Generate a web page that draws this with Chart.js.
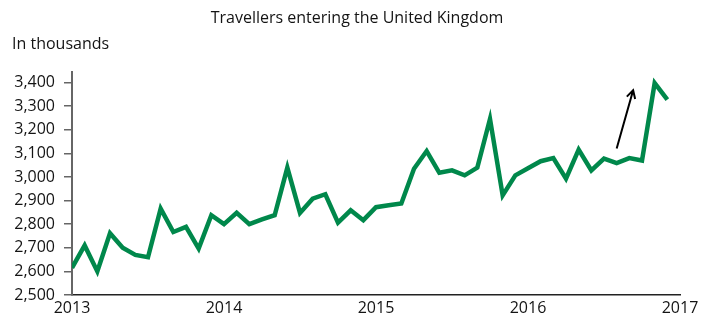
<!DOCTYPE html>
<html>
<head>
<meta charset="utf-8">
<script src="https://cdn.jsdelivr.net/npm/chart.js@4/dist/chart.umd.min.js"></script>
<style>
  html, body { margin: 0; padding: 0; background: #fff; }
  #chart { display: block; }
</style>
</head>
<body>
<canvas id="chart" width="712" height="318"></canvas>
<script>
// monthly travellers, Jan 2013 .. Dec 2016, in thousands
const travellers = [
  2615, 2710, 2600, 2762, 2700, 2670, 2660, 2866, 2767, 2789, 2697, 2838,
  2800, 2848, 2800, 2820, 2838, 3040, 2848, 2908, 2927, 2807, 2859, 2817,
  2872, 2880, 2888, 3035, 3110, 3018, 3028, 3007, 3040, 3246, 2922, 3007,
  3037, 3067, 3080, 2993, 3116, 3028, 3078, 3059, 3080, 3070, 3398, 3328
];
const yearLabels = ['2013', '2014', '2015', '2016', '2017'];
const yTicks = [2500, 2600, 2700, 2800, 2900, 3000, 3100, 3200, 3300, 3400];
// arrow annotation, [month index, value]
const arrowFrom = [43.0, 3121];
const arrowTo = [44.3, 3368];

const titleText = 'Travellers entering the United Kingdom';
const unitText = 'In thousands';

const FONT = "'Open Sans', 'Noto Sans', sans-serif";
const TEXT = '#141414';

// title centred on the page, unit label at the top left
const headerPlugin = {
  id: 'header',
  afterDraw(chart) {
    const { ctx, width } = chart;
    ctx.save();
    ctx.fillStyle = TEXT;
    ctx.font = `16px ${FONT}`;
    ctx.textBaseline = 'middle';
    ctx.textAlign = 'center';
    ctx.fillText(titleText, width / 2 + 1, 18.6);
    ctx.textAlign = 'left';
    ctx.fillText(unitText, 12, 44.8);
    ctx.restore();
  }
};

const arrowPlugin = {
  id: 'arrow',
  afterDatasetsDraw(chart) {
    const { ctx, scales: { x, y } } = chart;
    const x1 = x.getPixelForValue(arrowFrom[0]);
    const y1 = y.getPixelForValue(arrowFrom[1]);
    const x2 = x.getPixelForValue(arrowTo[0]);
    const y2 = y.getPixelForValue(arrowTo[1]);
    const ang = Math.atan2(y2 - y1, x2 - x1);
    const head = 9;
    ctx.save();
    ctx.strokeStyle = '#000';
    ctx.lineWidth = 2;
    ctx.lineCap = 'butt';
    ctx.beginPath();
    ctx.moveTo(x1, y1);
    ctx.lineTo(x2, y2);
    ctx.moveTo(x2 - head * Math.cos(ang - 0.5), y2 - head * Math.sin(ang - 0.5));
    ctx.lineTo(x2, y2);
    ctx.lineTo(x2 - head * Math.cos(ang + 0.5), y2 - head * Math.sin(ang + 0.5));
    ctx.stroke();
    ctx.restore();
  }
};

new Chart(document.getElementById('chart'), {
  type: 'line',
  data: {
    datasets: [{
      data: travellers.map((v, i) => ({ x: i, y: v })),
      borderColor: '#00884b',
      borderWidth: 4.5,
      pointRadius: 0,
      tension: 0,
      fill: false
    }]
  },
  options: {
    responsive: false,
    animation: false,
    devicePixelRatio: 1,
    layout: { padding: { left: 12, right: 32, top: 72, bottom: 0 } },
    plugins: {
      legend: { display: false },
      tooltip: { enabled: false },
      title: { display: false }
    },
    scales: {
      x: {
        type: 'linear',
        min: 0,
        max: 48,
        afterFit: (scale) => { scale.height = 23; },
        ticks: {
          stepSize: 12,
          color: TEXT,
          font: { family: FONT, size: 16 },
          padding: 4,
          maxRotation: 0,
          callback: (v) => yearLabels[v / 12]
        },
        grid: { display: true, drawOnChartArea: false, drawTicks: false },
        border: { display: true, color: '#222', width: 1.5 }
      },
      y: {
        min: 2500,
        max: 3445,
        afterFit: (scale) => { scale.width = 60; },
        afterBuildTicks: (scale) => {
          scale.ticks = yTicks.map(v => ({ value: v }));
        },
        ticks: {
          color: TEXT,
          font: { family: FONT, size: 16 },
          padding: 9,
          callback: (v) => v.toLocaleString('en-US')
        },
        grid: {
          display: true,
          drawOnChartArea: false,
          drawTicks: true,
          tickLength: 8,
          color: '#666',
          lineWidth: 1.5
        },
        border: { display: true, color: '#666', width: 2 }
      }
    }
  },
  plugins: [headerPlugin, arrowPlugin]
});
</script>
</body>
</html>
